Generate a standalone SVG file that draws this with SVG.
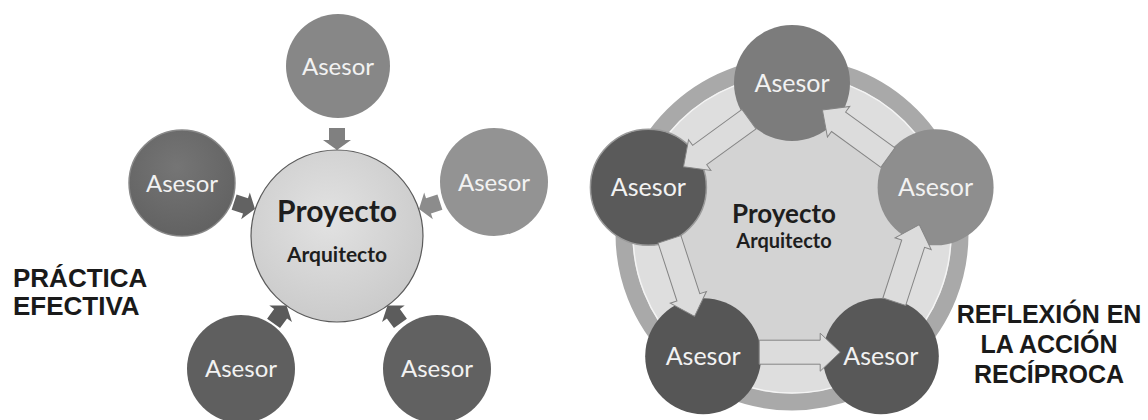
<svg xmlns="http://www.w3.org/2000/svg" width="1148" height="420" viewBox="0 0 1148 420">
<defs>
<radialGradient id="gCenter" cx="45%" cy="40%" r="65%">
<stop offset="0" stop-color="#e2e2e2"/>
<stop offset="1" stop-color="#c9c9c9"/>
</radialGradient>
<radialGradient id="gShade" cx="45%" cy="35%" r="70%">
<stop offset="0" stop-color="#ffffff" stop-opacity="0.08"/>
<stop offset="1" stop-color="#000000" stop-opacity="0.08"/>
</radialGradient>
<path id="smallArrow" d="M-22,-8 L-10,-8 L-10,-14 L0,0 L-10,14 L-10,8 L-22,8 Z"/>
<path id="cycArrow" d="M56,-16 L117,-16 L117,-23 L137,-4 L117,15 L117,8 L56,8 Z"/>
</defs>
<style>
.ases{font-family:Lato,"Open Sans",sans-serif;font-size:24px;fill:#f2f2f2;text-anchor:middle}
.ases2{font-family:Lato,"Open Sans",sans-serif;font-size:25px;fill:#f2f2f2;text-anchor:middle}
.title{font-family:Lato,"Open Sans",sans-serif;font-weight:bold;fill:#1e1e1e;text-anchor:middle}
.label{font-family:"Liberation Sans",Arial,sans-serif;font-weight:bold;font-size:25px;fill:#1a1a1a}
.label26{font-family:"Liberation Sans",Arial,sans-serif;font-weight:bold;font-size:26px;fill:#1a1a1a}
.ring{fill:none;stroke:#a9a9a9;stroke-width:17}
.carr{fill:#dcdcdc;stroke:#858585;stroke-width:1}
</style>
<rect width="1148" height="420" fill="#ffffff"/>

<!-- LEFT DIAGRAM -->
<g id="left-connectors">
<use href="#smallArrow" transform="translate(337,150) rotate(90)" fill="#808080"/>
<use href="#smallArrow" transform="translate(255,209) rotate(18)" fill="#626262"/>
<use href="#smallArrow" transform="translate(419,209) rotate(162)" fill="#8c8c8c"/>
<use href="#smallArrow" transform="translate(286.5,305.6) rotate(-54)" fill="#5a5a5a"/>
<use href="#smallArrow" transform="translate(387.5,305.6) rotate(-126)" fill="#5c5c5c"/>
</g>
<g id="l-center">
<circle cx="337" cy="236" r="86" fill="url(#gCenter)" stroke="#5a5a5a" stroke-width="1.2"/>
<text class="title" x="337" y="222" font-size="30">Proyecto</text>
<text class="title" x="337" y="262" font-size="21">Arquitecto</text>
</g>
<g id="l-top">
<circle cx="338" cy="66" r="52" fill="#878787"/>
<text class="ases" x="338" y="75">Asesor</text>
</g>
<g id="l-left">
<circle cx="182" cy="183" r="53" fill="#696969" stroke="#8a8a8a" stroke-width="1.5"/>
<circle cx="182" cy="183" r="53" fill="url(#gShade)"/>
<text class="ases" x="182" y="192">Asesor</text>
</g>
<g id="l-right">
<circle cx="494" cy="182" r="54" fill="#939393"/>
<text class="ases" x="494" y="191">Asesor</text>
</g>
<g id="l-bottomleft">
<circle cx="241" cy="369" r="54" fill="#5f5f5f"/>
<text class="ases" x="241" y="377">Asesor</text>
</g>
<g id="l-bottomright">
<circle cx="437" cy="369" r="54" fill="#616161"/>
<text class="ases" x="437" y="377">Asesor</text>
</g>

<g id="label-left">
<text class="label26" x="13" y="287">PRÁCTICA</text>
<text class="label26" x="13" y="315">EFECTIVA</text>
</g>

<!-- RIGHT DIAGRAM -->
<g id="r-ring">
<circle cx="792" cy="234" r="160" fill="#dedede"/>
<circle cx="792" cy="234" r="168" class="ring"/>
<circle cx="792" cy="234" r="159" fill="none" stroke="#f4f4f4" stroke-width="1.5"/>
<polygon points="792,83 935.6,187.3 880.8,356.2 703.2,356.2 648.4,187.3" fill="#d3d3d3"/>
</g>
<g id="r-center">
<text class="title" x="784" y="223" font-size="26">Proyecto</text>
<text class="title" x="784" y="248" font-size="20">Arquitecto</text>
</g>
<g id="r-top">
<circle cx="792" cy="83" r="58" fill="#7c7c7c"/>
</g>
<g id="r-right">
<circle cx="935.6" cy="187.3" r="58" fill="#8e8e8e"/>
</g>
<g id="r-bottomright">
<circle cx="880.8" cy="356.2" r="58" fill="#585858"/>
</g>
<g id="r-bottomleft">
<circle cx="703.2" cy="356.2" r="58" fill="#565656"/>
</g>
<g id="r-left">
<circle cx="648.4" cy="187.3" r="58" fill="#5a5a5a" stroke="#9a9a9a" stroke-width="1.5"/>
</g>
<g id="right-connectors">
<use href="#cycArrow" class="carr" transform="translate(648.4,187.3) rotate(72)"/>
<use href="#cycArrow" class="carr" transform="translate(703.2,356.2) rotate(0)"/>
<use href="#cycArrow" class="carr" transform="translate(880.8,356.2) rotate(-72)"/>
<use href="#cycArrow" class="carr" transform="translate(935.6,187.3) rotate(216)"/>
<use href="#cycArrow" class="carr" transform="translate(792,83) rotate(144)"/>
</g>
<g id="r-texts">
<text class="ases2" x="792" y="92">Asesor</text>
<text class="ases2" x="935.6" y="196">Asesor</text>
<text class="ases2" x="880.8" y="365">Asesor</text>
<text class="ases2" x="703.2" y="365">Asesor</text>
<text class="ases2" x="648.4" y="196">Asesor</text>
</g>

<g id="label-right">
<text class="label" x="1049" y="323" text-anchor="middle">REFLEXIÓN EN</text>
<text class="label" x="1049" y="353" text-anchor="middle">LA ACCIÓN</text>
<text class="label" x="1049" y="383" text-anchor="middle">RECÍPROCA</text>
</g>
</svg>
